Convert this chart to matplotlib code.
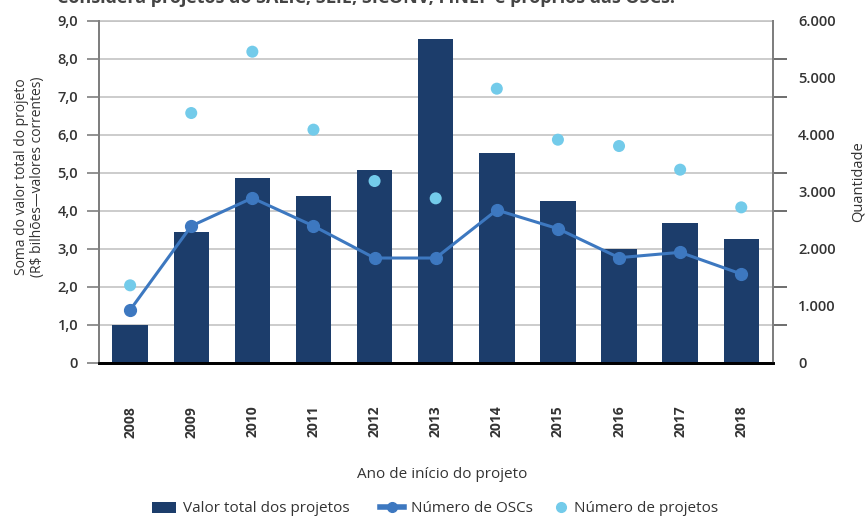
import matplotlib
matplotlib.use("Agg")
import matplotlib.pyplot as plt
from matplotlib.lines import Line2D
from matplotlib.patches import Patch
from matplotlib.ticker import FuncFormatter

plt.rcParams['font.family'] = ['Open Sans', 'DejaVu Sans']

years = ['2008', '2009', '2010', '2011', '2012', '2013', '2014', '2015', '2016', '2017', '2018']
valor_total = [1.00, 3.44, 4.86, 4.39, 5.06, 8.52, 5.52, 4.25, 2.99, 3.68, 3.25]
num_oscs = [924, 2398, 2889, 2398, 1836, 1836, 2678, 2351, 1842, 1936, 1556]
num_projetos = [1357, 4380, 5456, 4088, 3187, 2883, 4807, 3912, 3801, 3386, 2725]

left_ticks = [0, 1, 2, 3, 4, 5, 6, 7, 8, 9]
right_ticks = [0, 1000, 2000, 3000, 4000, 5000, 6000]

bar_color = '#1c3d6b'
line_color = '#3d78c0'
dot_color = '#73cbea'
text_color = '#333333'

fig = plt.figure(figsize=(8.68, 5.17), dpi=100)
ax = fig.add_axes([0.114, 0.2985, 0.7766, 0.6615])
ax2 = ax.twinx()

x = list(range(len(years)))
ax.bar(x, valor_total, width=0.58, color=bar_color, zorder=2)
ax.set_ylim(0, 9)
ax.set_xlim(-0.51, 10.52)
ax.set_yticks(left_ticks)
ax.yaxis.set_major_formatter(FuncFormatter(lambda v, p: '0' if v == 0 else f'{v:.1f}'.replace('.', ',')))
ax.grid(axis='y', color='#c4c4c4', linewidth=1.2, zorder=0)
ax.set_axisbelow(True)
ax.set_xticks(x)
ax.set_xticklabels(years, rotation=90, fontsize=10, fontweight='bold', color=text_color)
ax.tick_params(axis='x', length=0, pad=31)
ax.tick_params(axis='y', length=9, width=1.2, color='#7f7f7f', labelsize=10.5, labelcolor=text_color, pad=6)
for lab in ax.get_yticklabels():
    lab.set_fontweight('semibold')

ax2.plot(x, num_oscs, color=line_color, linewidth=2.2, marker='o', markersize=8.5, zorder=3)
ax2.scatter(x, num_projetos, color=dot_color, s=75, zorder=4, edgecolors='none')
ax2.set_ylim(0, 6000)
ax2.set_yticks(right_ticks)
ax2.yaxis.set_major_formatter(FuncFormatter(lambda v, p: '0' if v == 0 else f'{int(v):,}'.replace(',', '.')))
ax2.set_yticks([i * 6000 / 9 for i in range(10)], minor=True)
ax2.tick_params(axis='y', which='major', length=0, labelsize=10.5, labelcolor=text_color, pad=18)
ax2.tick_params(axis='y', which='minor', direction='out', length=10, width=1.2, color='#555555')
for lab in ax2.get_yticklabels():
    lab.set_fontweight('semibold')

for a in (ax, ax2):
    a.spines['top'].set_visible(False)
    a.spines['left'].set_color('#7f7f7f')
    a.spines['left'].set_linewidth(1.4)
    a.spines['right'].set_color('#7f7f7f')
    a.spines['right'].set_linewidth(1.4)
    a.spines['bottom'].set_color('black')
    a.spines['bottom'].set_linewidth(2)
ax.plot([0, 1], [1, 1], transform=ax.transAxes, color='#c4c4c4', linewidth=1.2, clip_on=False, zorder=0)

ax.set_ylabel('Soma do valor total do projeto\n(R$ bilhões—valores correntes)', fontsize=10,
              color=text_color, linespacing=1.05)
ax.yaxis.set_label_coords(-0.08, 0.545)
ax2.set_ylabel('Quantidade', fontsize=10.5, color=text_color)
ax2.yaxis.set_label_coords(1.115, 0.528)

fig.text(0.51, 1 - 475 / 517, 'Ano de início do projeto', ha='center', va='center', fontsize=11, color=text_color)

fig.text(57 / 868, 1 - 3 / 517, 'Considera projetos do SALIC, SLIE, SICONV, FINEP e próprios das OSCs.',
         ha='left', va='baseline', fontsize=13, fontweight='bold', color='#444444')

legend_items = [
    (Patch(facecolor=bar_color, edgecolor='none'), 'Valor total dos projetos', 152, 1.6, 0.4),
    (Line2D([0], [0], color=line_color, linewidth=4, marker='o', markersize=7), 'Número de OSCs', 380, 1.6, 0.4),
    (Line2D([0], [0], color=dot_color, linestyle='none', marker='o', markersize=7), 'Número de projetos', 555, 0.8, 0.45),
]
for handle, label, xpix, hl, htp in legend_items:
    fig.legend([handle], [label], loc='center left', bbox_to_anchor=(xpix / 868, 1 - 509 / 517),
               frameon=False, fontsize=11, handlelength=hl, handletextpad=htp, borderpad=0,
               borderaxespad=0, labelcolor=text_color)

fig.savefig('out.png', dpi=100)
